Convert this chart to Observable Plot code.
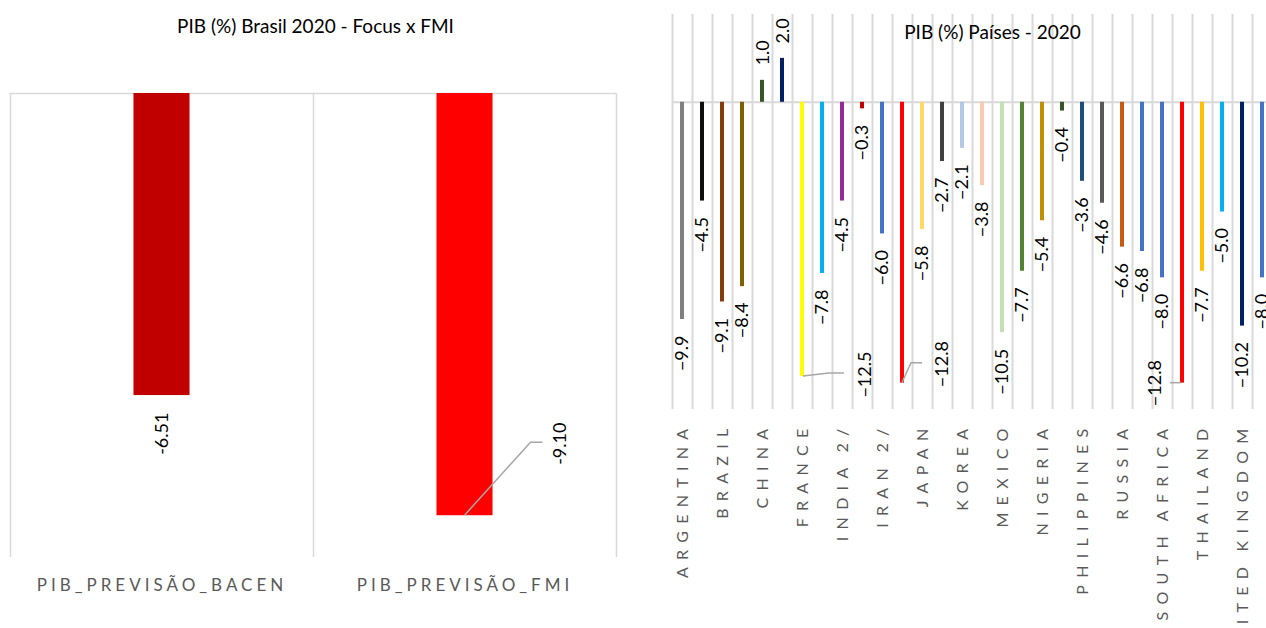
<!DOCTYPE html>
<html>
<head>
<meta charset="utf-8">
<script src="https://cdn.jsdelivr.net/npm/d3@7"></script>
<script src="https://cdn.jsdelivr.net/npm/@observablehq/plot@0.6"></script>
<style>
  html, body { margin: 0; padding: 0; background: #fff; width: 1266px; height: 628px; overflow: hidden; }
  #wrap { position: relative; width: 1266px; height: 628px; overflow: hidden; font-family: Lato, sans-serif; }
  .title { position: absolute; font-family: Lato, sans-serif; font-size: 19px; line-height: 1; color: #000; white-space: nowrap; transform: translate(-50%, -50%); z-index: 2; }
  #left { position: absolute; left: 0; top: 0; width: 640px; }
  #right { position: absolute; left: 640px; top: 0; width: 640px; }
  #left svg, #right svg { max-width: none !important; }
  #left g[aria-label="x-axis tick label"] text { letter-spacing: 4px; }
  #right g[aria-label="x-axis tick label"] text { letter-spacing: 7.3px; word-spacing: -3px; }
</style>
</head>
<body>
<div id="wrap">
  <div id="left"></div>
  <div id="right"></div>
  <div class="title" style="left:315.5px; top:25px;">PIB (%) Brasil 2020 - Focus x FMI</div>
  <div class="title" style="left:992.5px; top:31px;">PIB (%) Países - 2020</div>
</div>
<script>
// ---------- Data: left panel ----------
const brCategories = ["PIB_PREVISÃO_BACEN", "PIB_PREVISÃO_FMI"];
const brValues = [-6.51, -9.10];
const brColors = ["#C00000", "#FF0000"];

// ---------- Data: right panel ----------
const countries = ["ARGENTINA", "AUSTRALIA", "BRAZIL", "CANADA", "CHINA", "EGYPT", "FRANCE", "GERMANY",
  "INDIA 2/", "INDONESIA", "IRAN 2/", "ITALY", "JAPAN", "KAZAKHSTAN", "KOREA", "MALAYSIA", "MEXICO",
  "NETHERLANDS", "NIGERIA", "PAKISTAN", "PHILIPPINES", "POLAND", "RUSSIA", "SAUDI ARABIA",
  "SOUTH AFRICA", "SPAIN", "THAILAND", "TURKEY", "UNITED KINGDOM", "UNITED STATES"];
const gdp2020 = [-9.9, -4.5, -9.1, -8.4, 1.0, 2.0, -12.5, -7.8, -4.5, -0.3, -6.0, -12.8, -5.8, -2.7,
  -2.1, -3.8, -10.5, -7.7, -5.4, -0.4, -3.6, -4.6, -6.6, -6.8, -8.0, -12.8, -7.7, -5.0, -10.2, -8.0];
const countryColors = ["#808080", "#0D0D0D", "#843C0C", "#7F6000", "#375623", "#002060", "#FFFF00", "#00B0F0",
  "#942C97", "#C00000", "#4472C4", "#FF0000", "#FFD966", "#404040", "#B4C7E7", "#F8CBAD", "#C5E0B4",
  "#548235", "#BF9000", "#375623", "#1F4E79", "#595959", "#C55A11", "#4472C4", "#4472C4", "#FF0000",
  "#FFC000", "#00B0F0", "#002060", "#4472C4"];
// only every other category label is shown (as in the reference)
const shownTickIndex = d3.range(0, countries.length, 2);

// ---------- Styles / label placement (pixels) ----------
const GRID = "#d9d9d9";
const labelFont = 18;
// manually displaced labels: label offset from bar end, and leader path offsets
const brMoved = { 1: { dx: 95, dy: -72, path: [[0, 0], [66, -73], [78, -73]] } };
const ctMoved = {
  6:  { dx: 63,  dy: -2,  path: [[1, 0], [27, -3], [42, -3]] },
  11: { dx: 40,  dy: -19, path: [[0, 0], [9, -20], [20, -20]] },
  25: { dx: -27, dy: 0,   path: [[-12, 0], [-1, 0]] }
};

function leaderMark(rows, moved, xKey) {
  return (index, scales) => {
    const g = d3.create("svg:g").attr("fill", "none").attr("stroke", "#A6A6A6").attr("stroke-width", 1.5);
    for (const r of rows) {
      const m = moved[r.i];
      if (!m) continue;
      const x0 = scales.x(r[xKey]), y0 = scales.y(r.value);
      g.append("path").attr("d", d3.line()(m.path.map(([a, b]) => [x0 + a, y0 + b])));
    }
    return g.node();
  };
}

// ---------- Left chart ----------
const brRows = brCategories.map((c, i) => ({ i, name: c, value: brValues[i], color: brColors[i] }));
const brHalf = 0.0925;
const leftMarks = [
  Plot.ruleX(d3.range(brCategories.length + 1), { x: d => d - 0.5, y1: -10, y2: 0, stroke: GRID, strokeWidth: 1.5 }),
  Plot.ruleY([0], { stroke: GRID, strokeWidth: 1.5 }),
  Plot.rectY(brRows, { x1: d => d.i - brHalf, x2: d => d.i + brHalf, y1: 0, y2: "value", fill: "color" }),
  Plot.text(brRows.filter(d => !brMoved[d.i]), {
    x: "i", y: "value", text: d => d.value.toFixed(2), rotate: -90, textAnchor: "end",
    lineAnchor: "middle", dy: 17, fontSize: labelFont, fill: "#000"
  }),
  ...brRows.filter(d => brMoved[d.i]).map(d => Plot.text([d], {
    x: "i", y: "value", text: r => r.value.toFixed(2), rotate: -90, textAnchor: "middle",
    lineAnchor: "middle", dx: brMoved[d.i].dx, dy: brMoved[d.i].dy, fontSize: labelFont, fill: "#000"
  })),
  leaderMark(brRows, brMoved, "i"),
  Plot.axisX({ ticks: d3.range(brCategories.length), tickFormat: i => brCategories[i], tickSize: 0,
    tickPadding: 21, fontSize: 17, fill: "#595959", label: null })
];
const left = Plot.plot({
  width: 640, height: 628,
  marginLeft: 10, marginRight: 24, marginTop: 93, marginBottom: 71,
  x: { type: "linear", domain: [-0.5, brCategories.length - 0.5], label: null },
  y: { domain: [-10, 0], axis: null },
  style: { fontFamily: "Lato, sans-serif", background: "transparent", overflow: "visible" },
  marks: leftMarks
});
document.getElementById("left").appendChild(left);

// ---------- Right chart ----------
const rows = countries.map((c, i) => ({ i, country: c, value: gdp2020[i], color: countryColors[i] }));
const fmt = d3.format(".1f");
const half = 0.1;
const normal = rows.filter(d => !ctMoved[d.i]);
const rightMarks = [
  Plot.ruleX(d3.range(countries.length + 1), { x: d => d - 0.5, y1: -14, y2: 4, stroke: GRID, strokeWidth: 2 }),
  Plot.ruleY([0], { stroke: GRID, strokeWidth: 2 }),
  Plot.rectY(rows, { x1: d => d.i - half, x2: d => d.i + half, y1: 0, y2: "value", fill: "color" }),
  Plot.text(normal.filter(d => d.value < 0), {
    x: "i", y: "value", text: d => fmt(d.value), rotate: -90, textAnchor: "end",
    lineAnchor: "middle", dy: 16, fontSize: labelFont, fill: "#000"
  }),
  Plot.text(normal.filter(d => d.value >= 0), {
    x: "i", y: "value", text: d => fmt(d.value), rotate: -90, textAnchor: "start",
    lineAnchor: "middle", dy: -15, dx: 1, fontSize: labelFont, fill: "#000"
  }),
  ...rows.filter(d => ctMoved[d.i]).map(d => Plot.text([d], {
    x: "i", y: "value", text: r => fmt(r.value), rotate: -90, textAnchor: "middle",
    lineAnchor: "middle", dx: ctMoved[d.i].dx, dy: ctMoved[d.i].dy, fontSize: labelFont, fill: "#000"
  })),
  leaderMark(rows, ctMoved, "i"),
  Plot.axisX({ ticks: shownTickIndex, tickFormat: i => countries[i], tickSize: 0, tickRotate: -90,
    tickPadding: 12, fontSize: 16, fill: "#595959", label: null })
];
const right = Plot.plot({
  width: 640, height: 720,
  marginLeft: 32, marginRight: 8, marginTop: 14, marginBottom: 311,
  x: { type: "linear", domain: [-0.5, countries.length - 0.5], label: null },
  y: { domain: [-14, 4], axis: null },
  style: { fontFamily: "Lato, sans-serif", background: "transparent", overflow: "visible" },
  marks: rightMarks
});
document.getElementById("right").appendChild(right);
</script>
</body>
</html>
